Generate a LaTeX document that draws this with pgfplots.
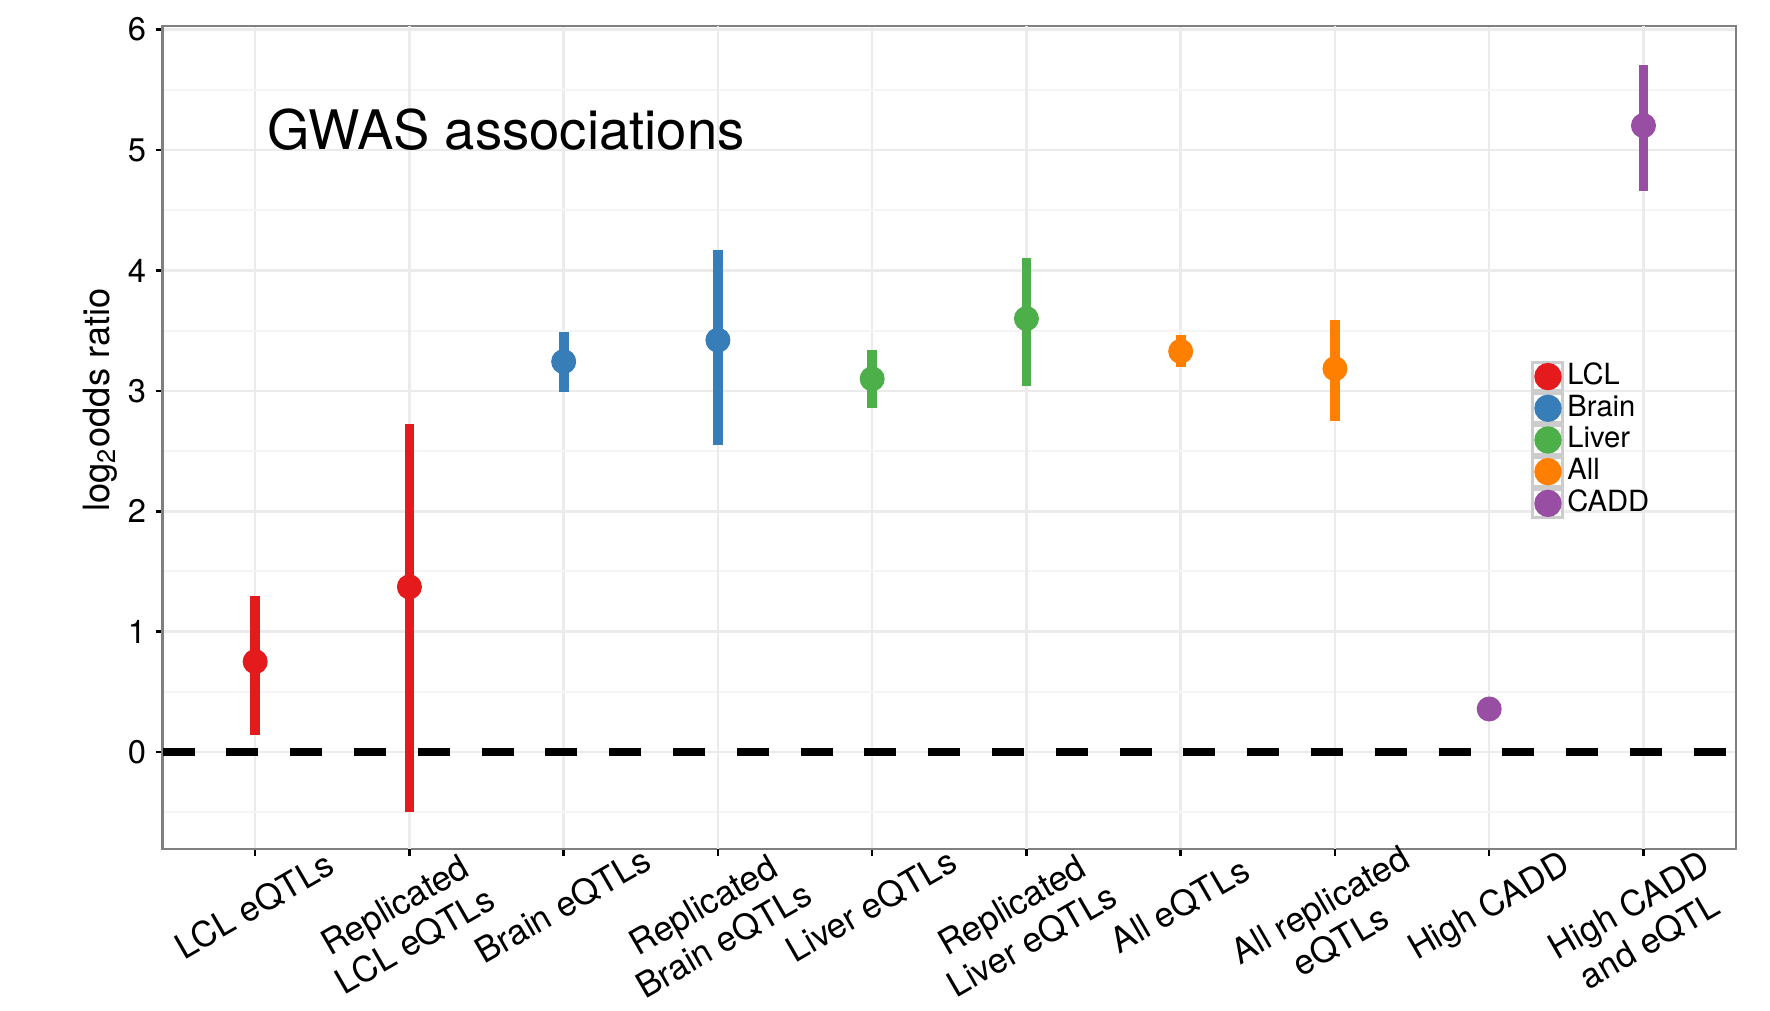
\documentclass[border=0pt]{standalone}
\usepackage{fontspec}
\setmainfont{TeX Gyre Heros}
\usepackage{pgfplots}
\pgfplotsset{compat=1.18}
\usepackage{pgfplotstable}
\definecolor{cLCL}{HTML}{E41A1C}
\definecolor{cBrain}{HTML}{377EB8}
\definecolor{cLiver}{HTML}{4DAF4A}
\definecolor{cAll}{HTML}{FF7F00}
\definecolor{cCADD}{HTML}{984EA3}
\definecolor{gridmaj}{HTML}{EBEBEB}
\definecolor{gridmin}{HTML}{F5F5F5}

\pgfplotstableread{
x y lo hi
1 0.751 0.143 1.295
2 1.372 -0.495 2.728
}\lcl
\pgfplotstableread{
x y lo hi
3 3.243 2.990 3.487
4 3.421 2.550 4.170
}\brain
\pgfplotstableread{
x y lo hi
5 3.100 2.860 3.337
6 3.600 3.037 4.105
}\liver
\pgfplotstableread{
x y lo hi
7 3.328 3.196 3.460
8 3.184 2.747 3.585
}\alltab
\pgfplotstableread{
x y lo hi
9 0.358 0.330 0.386
10 5.203 4.656 5.707
}\cadd

\begin{document}
\begin{tikzpicture}
\useasboundingbox (-16.26mm,-16.1mm) rectangle (160.74mm,84.9mm);
\begin{axis}[
  at={(0,0)}, anchor=south west,
  scale only axis, width=157.34mm, height=82.3mm,
  xmin=0.4, xmax=10.6, ymin=-0.805, ymax=6.03,
  xtick={1,3,5,7,9},
  xticklabels={LCL eQTLs,Brain eQTLs,Liver eQTLs,All eQTLs,High CADD},
  extra x ticks={2,4,6,8,10},
  extra x tick labels={{Replicated\\LCL eQTLs},{Replicated\\Brain eQTLs},{Replicated\\Liver eQTLs},{All replicated\\eQTLs},{High CADD\\and eQTL}},
  extra x tick style={grid=major, xticklabel style={xshift=-1.178mm, yshift=0.68mm}},
  ytick={0,...,6},
  minor ytick={-0.5,0.5,...,5.5},
  xmajorgrids, ymajorgrids, yminorgrids,
  major grid style={gridmaj, line width=0.25mm},
  minor grid style={gridmin, line width=0.2mm},
  minor tick length=0pt,
  major tick length=0.7mm,
  tick align=outside, tick pos=left,
  tick style={black, line width=0.25mm},
  axis line style={black!50, line width=0.25mm},
  /pgf/number format/assume math mode=true,
  yticklabel style={font=\fontsize{9.3}{10}\selectfont, inner sep=0pt, anchor=east, xshift=-0.89mm},
  xticklabel style={font=\fontsize{9.9}{11.6}\selectfont, align=center, inner sep=0pt, xshift=-0.8mm, yshift=-3.7mm, rotate=30, anchor=north},
  ylabel={log\textsubscript{2}odds ratio},
  ylabel style={font=\fontsize{10.3}{12}\selectfont, at={(axis description cs:-0.0397,0.5456)}, anchor=center},
  legend image code/.code={
    \draw[black!20, line width=0.3mm, fill=white] (0mm,-1.435mm) rectangle (3.0mm,1.435mm);
    \fill[#1] (1.5mm,0mm) circle (1.3mm);
  },
  legend style={at={(0.870,0.5933)}, anchor=north west, draw=none, fill=none, inner sep=0pt, outer sep=0pt, row sep=0pt, font=\fontsize{8.3}{9.6}\selectfont, nodes={inner xsep=0.3mm, inner ysep=0pt}},
  legend cell align=left,
  clip=true,
]
\addplot[black, line width=0.73mm, dash pattern=on 3.19mm off 3.19mm, forget plot] coordinates {(0.4,0) (10.6,0)};

\addplot[only marks, mark=*, mark size=1.18mm, color=cLCL, mark options={draw=none, fill=cLCL}, forget plot,
  error bars/.cd, y dir=both, y explicit, error mark=none, error bar style={line width=0.97mm, color=cLCL}]
  table[x=x, y=y, y error plus expr=\thisrow{hi}-\thisrow{y}, y error minus expr=\thisrow{y}-\thisrow{lo}] {\lcl};
\addplot[only marks, mark=*, mark size=1.18mm, color=cBrain, mark options={draw=none, fill=cBrain}, forget plot,
  error bars/.cd, y dir=both, y explicit, error mark=none, error bar style={line width=0.97mm, color=cBrain}]
  table[x=x, y=y, y error plus expr=\thisrow{hi}-\thisrow{y}, y error minus expr=\thisrow{y}-\thisrow{lo}] {\brain};
\addplot[only marks, mark=*, mark size=1.18mm, color=cLiver, mark options={draw=none, fill=cLiver}, forget plot,
  error bars/.cd, y dir=both, y explicit, error mark=none, error bar style={line width=0.97mm, color=cLiver}]
  table[x=x, y=y, y error plus expr=\thisrow{hi}-\thisrow{y}, y error minus expr=\thisrow{y}-\thisrow{lo}] {\liver};
\addplot[only marks, mark=*, mark size=1.18mm, color=cAll, mark options={draw=none, fill=cAll}, forget plot,
  error bars/.cd, y dir=both, y explicit, error mark=none, error bar style={line width=0.97mm, color=cAll}]
  table[x=x, y=y, y error plus expr=\thisrow{hi}-\thisrow{y}, y error minus expr=\thisrow{y}-\thisrow{lo}] {\alltab};
\addplot[only marks, mark=*, mark size=1.18mm, color=cCADD, mark options={draw=none, fill=cCADD}, forget plot,
  error bars/.cd, y dir=both, y explicit, error mark=none, error bar style={line width=0.97mm, color=cCADD}]
  table[x=x, y=y, y error plus expr=\thisrow{hi}-\thisrow{y}, y error minus expr=\thisrow{y}-\thisrow{lo}] {\cadd};

\addlegendimage{cLCL}\addlegendentry{LCL}
\addlegendimage{cBrain}\addlegendentry{Brain}
\addlegendimage{cLiver}\addlegendentry{Liver}
\addlegendimage{cAll}\addlegendentry{All}
\addlegendimage{cCADD}\addlegendentry{CADD}

\node[anchor=base west, inner sep=0pt, font=\fontsize{15.5}{18}\selectfont] at (axis cs:1.076,5.005) {GWAS associations};
\end{axis}
\end{tikzpicture}
\end{document}
